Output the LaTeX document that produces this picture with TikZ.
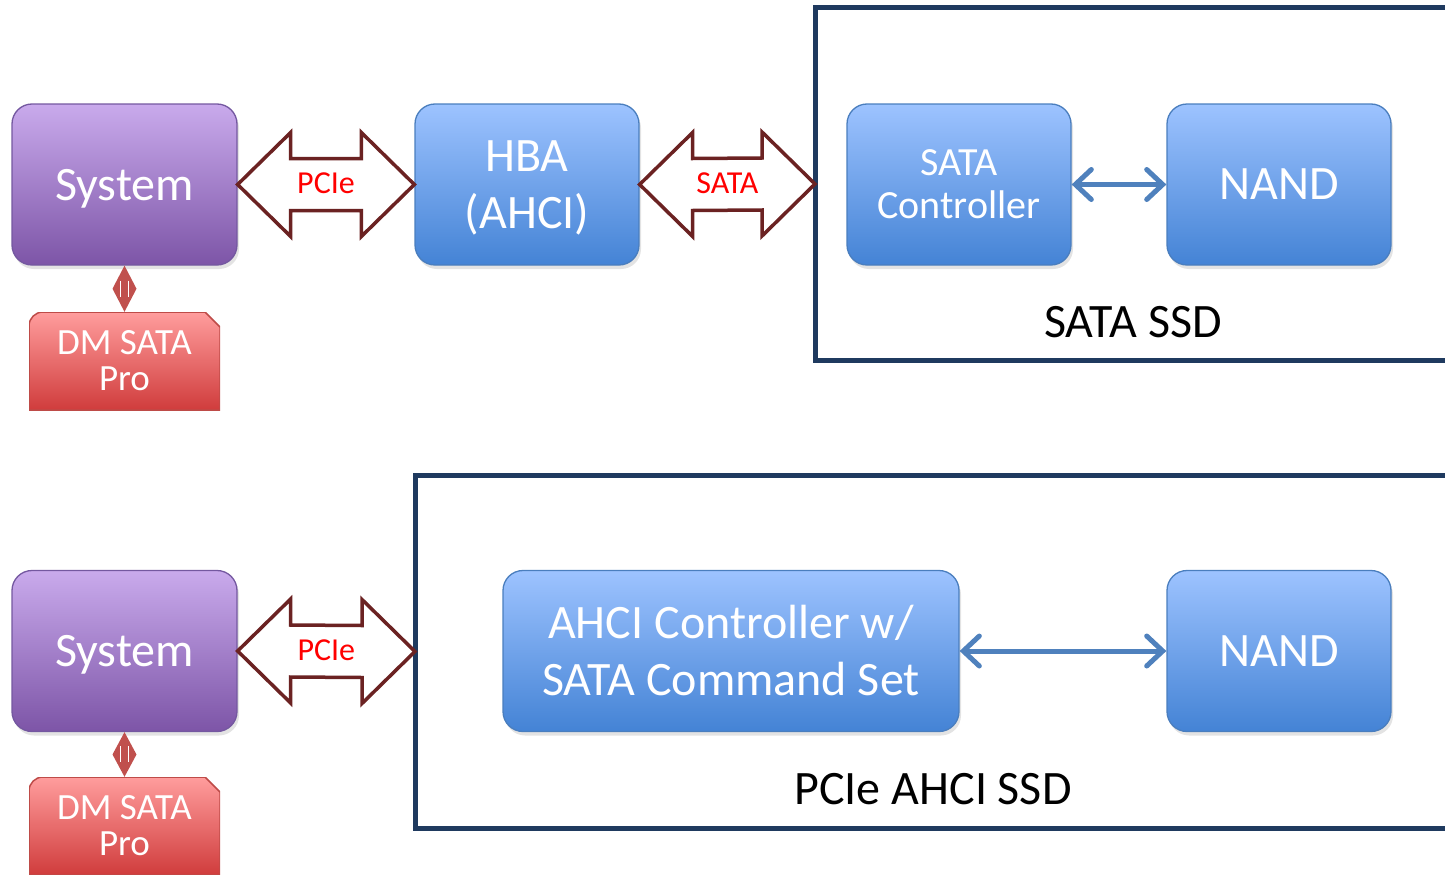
\documentclass[tikz,border=0pt]{standalone}
\usepackage{fontspec}
\setmainfont{Carlito}
\usetikzlibrary{arrows.meta,shadows,calc}
\definecolor{purpletop}{HTML}{C9AAEC}
\definecolor{purplebot}{HTML}{7D55A7}
\definecolor{purpleborder}{HTML}{7458A0}
\definecolor{bluetop}{HTML}{9DC3FF}
\definecolor{bluebot}{HTML}{4483D5}
\definecolor{blueborder}{HTML}{4A7EBE}
\definecolor{redtop}{HTML}{FF9D9D}
\definecolor{redbot}{HTML}{D03C3C}
\definecolor{redborder}{HTML}{BE4B48}
\definecolor{arrowbrown}{HTML}{6B2222}
\definecolor{navy}{HTML}{1F3A5F}
\definecolor{linkblue}{HTML}{4F81BD}
\definecolor{diamondred}{HTML}{C0504D}
\newcommand{\bigdoublearrow}[2]{%
  \draw[blockarrow] (#1.east) -- ($(#1.east)+(53,-52)$) -- ($(#1.east)+(53,-26)$)
    -- ($(#2.west)+(-53,-26)$) -- ($(#2.west)+(-53,-52)$) -- (#2.west)
    -- ($(#2.west)+(-53,52)$) -- ($(#2.west)+(-53,26)$)
    -- ($(#1.east)+(53,26)$) -- ($(#1.east)+(53,52)$) -- cycle;}
\newcommand{\diamondlink}[2]{%
  \fill[diamondred] (#1.south) -- ($(#1.south)!0.5!(#2.north)+(12,0)$) -- (#2.north)
    -- ($(#1.south)!0.5!(#2.north)+(-12,0)$) -- cycle;
  \draw[white, line width=1.6pt] ($(#1.south)!0.5!(#2.north)+(-4,-8)$) -- ++(0,16);
  \draw[white, line width=1.6pt] ($(#1.south)!0.5!(#2.north)+(4,-8)$) -- ++(0,16);}
\begin{document}
\begin{tikzpicture}[x=1pt,y=-1pt,
  box/.style={rounded corners=20pt, text=white, align=center, inner sep=0pt,
    line width=1.3pt, drop shadow={opacity=0.22, shadow xshift=2pt, shadow yshift=-4pt}},
  sysbox/.style={box, draw=purpleborder, top color=purpletop, bottom color=purplebot,
    minimum width=225pt, minimum height=161pt, text depth=0pt, font=\fontsize{48}{57}\selectfont},
  bluebox/.style={box, draw=blueborder, top color=bluetop, bottom color=bluebot,
    minimum height=161pt},
  bigtext/.style={font=\fontsize{48}{57}\selectfont},
  midtext/.style={font=\fontsize{40}{43}\selectfont},
  dmbox/.style={minimum width=191pt, minimum height=98pt, inner sep=0pt, text=white,
    align=center, font=\fontsize{37}{36}\selectfont,
    path picture={\shade[top color=redtop, bottom color=redbot, draw=redborder, line width=1.5pt]
      (path picture bounding box.south west) [rounded corners=14pt]
      -- (path picture bounding box.north west) [sharp corners]
      -- ($(path picture bounding box.north east)+(-15,0)$)
      -- ($(path picture bounding box.north east)+(0,15)$)
      -- (path picture bounding box.south east) -- cycle;}},
  container/.style={draw=navy, line width=5pt, outer sep=0pt, inner sep=0pt},
  blockarrow/.style={draw=arrowbrown, fill=white, line width=3.5pt, line join=miter},
  buslabel/.style={text=red, font=\fontsize{32}{34}\selectfont, inner sep=0pt},
  bluelink/.style={draw=linkblue, line width=5pt, line cap=round,
    arrows={Straight Barb[length=16pt,width=30pt,line cap=round]-Straight Barb[length=16pt,width=30pt,line cap=round]}},
  ssdlabel/.style={text=black, font=\fontsize{48}{52}\selectfont, inner sep=0pt}
]
\useasboundingbox (0,0) rectangle (1445,875);
\clip (0,0) rectangle (1445,875);

% ---------- top row ----------
\node[container, minimum width=645pt, minimum height=352pt] (ssd1) at (1137.5,184) {};
\node[ssdlabel] (ssd1lbl) at (1133,322) {SATA SSD};

\node[sysbox] (sys1) at (124.5,184.5) {System};
\node[bluebox, bigtext, minimum width=224pt, text depth=0pt] (hba) at (527,184.5) {HBA\\(AHCI)};
\node[bluebox, midtext, minimum width=224pt] (satac) at (959,184.5) {SATA\\Controller};
\node[bluebox, bigtext, minimum width=224pt] (nand1) at (1279,184.5) {NAND};
\node[dmbox] (dm1) at (124.5,361) {DM SATA\\Pro};

\bigdoublearrow{sys1}{hba}
\node[buslabel] (pcie1) at ($(sys1.east)!0.5!(hba.west)+(0,-1)$) {PCIe};
\bigdoublearrow{hba}{ssd1}
\node[buslabel] (sata1) at ($(hba.east)!0.5!(ssd1.west)+(0,-1)$) {SATA};
\draw[bluelink] (satac.east) -- (nand1.west);
\diamondlink{sys1}{dm1}

% ---------- bottom row ----------
\node[container, minimum width=1045pt, minimum height=353pt] (ssd2) at (937.5,651.5) {};
\node[ssdlabel] (ssd2lbl) at (933,789) {PCIe AHCI SSD};

\node[sysbox] (sys2) at (124.5,651) {System};
\node[bluebox, bigtext, minimum width=456pt] (ahci) at (731,651) {AHCI Controller w/\\SATA Command Set};
\node[bluebox, bigtext, minimum width=224pt] (nand2) at (1279,651) {NAND};
\node[dmbox] (dm2) at (124.5,826) {DM SATA\\Pro};

\bigdoublearrow{sys2}{ssd2}
\node[buslabel] (pcie2) at ($(sys2.east)!0.5!(ssd2.west)+(0,-1)$) {PCIe};
\draw[bluelink] (ahci.east) -- (nand2.west);
\diamondlink{sys2}{dm2}
\end{tikzpicture}
\end{document}
